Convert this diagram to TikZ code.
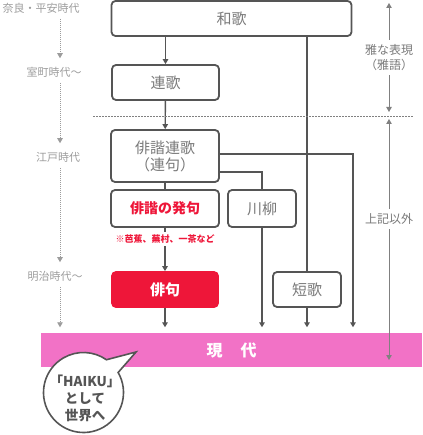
\documentclass[tikz,border=0pt]{standalone}
\usepackage{fontspec}
\setmainfont{Noto Sans CJK JP}
\usetikzlibrary{arrows.meta,positioning}
\definecolor{boxline}{HTML}{555555}
\definecolor{boxtext}{HTML}{7A7A7A}
\definecolor{eratext}{HTML}{9C9C9C}
\definecolor{haikured}{HTML}{EE1639}
\definecolor{barpink}{HTML}{F272C6}

\begin{document}
\begin{tikzpicture}[
    x=1pt, y=-1pt,
    line width=1.4pt,
    >={Triangle[length=5pt,width=5.5pt]},
    every node/.style={align=center},
    era/.style={
        text=eratext,
        font=\fontsize{11}{13}\selectfont,
        inner sep=3pt
    },
    eraflow/.style={
        ->,
        draw=eratext,
        line width=0.8pt,
        dash pattern=on 1pt off 1pt,
        shorten <=2pt,
        shorten >=5pt
    },
    box/.style={
        rectangle,
        rounded corners=4pt,
        draw=boxline,
        line width=1.8pt,
        fill=white,
        text=boxtext,
        font=\fontsize{15}{17}\selectfont,
        minimum width=#1,
        minimum height=35pt,
        inner sep=2pt
    },
    flow/.style={draw=boxline, line width=1.4pt},
    spanline/.style={<->, draw=gray, line width=0.8pt},
    spanlabel/.style={
        fill=white,
        text=boxtext,
        font=\fontsize{12}{15}\selectfont,
        inner sep=4pt
    },
]
\useasboundingbox (0,0) rectangle (422,435);

% main line
\node[box=240pt] (waka)  at (231.5,18.5) {和歌};
\node[box=107pt] (renga) at (165.5,82.5) {連歌};
\node[box=108pt, minimum height=52pt] (haikai) at (165,156) {俳諧連歌\\（連句）};
\node[box=108pt, minimum height=37pt, text=haikured, font=\fontsize{14}{17}\selectfont\bfseries] (hokku) at (165,208.5) {俳諧の発句};
\node[text=haikured, font=\fontsize{9}{11}\selectfont\bfseries, inner sep=2pt] (note) at (165,239) {※芭蕉、蕪村、一茶など};
\node[box=106pt, draw=haikured, fill=haikured, text=white, font=\fontsize{15}{17}\selectfont\bfseries] (haiku) at (165,289.5) {俳句};
\node[box=68pt, minimum height=37pt] (senryu) at (262,208.5) {川柳};
\node[box=68pt] (tanka) at (307,289.5) {短歌};

\node[fill=barpink, minimum width=381pt, minimum height=34pt, text=white, font=\fontsize{16}{19}\selectfont\bfseries] (gendai) at (231.5,350) {現\hspace{18pt}代};

\draw[flow,->] (waka.south -| renga) -- (renga);
\draw[flow,->] (renga) -- (haikai);
\draw[flow] (haikai) -- (hokku);
\draw[flow] (hokku) -- (note);
\draw[flow,->] (note) -- (haiku);
\draw[flow,->, shorten >=5pt] (haiku) -- (haiku |- gendai.north);

% side branches
\coordinate (outer) at (353,0);
\draw[flow] (waka.south -| tanka) -- (tanka);
\draw[flow] ([yshift=-16pt]haikai.east) -| (senryu);
\draw[flow,->] ([yshift=2pt]haikai.east) -| ([yshift=5pt]outer |- gendai.north);
\draw[flow,->, shorten >=5pt] (senryu) -- (senryu |- gendai.north);
\draw[flow,->, shorten >=5pt] (tanka) -- (tanka |- gendai.north);

% separator
\coordinate (sep left)  at (93,116);
\coordinate (sep right) at (413,116);
\draw[draw=gray, line width=0.8pt, dash pattern=on 1.5pt off 1.5pt] (sep left) -- (sep right);

% spans on the right
\coordinate (ga top)     at (389,3);
\coordinate (ga bottom)  at (389,112);
\coordinate (etc top)    at (389,119);
\coordinate (etc bottom) at (389,360);
\draw[spanline] (ga top) -- node[spanlabel] (gago) {雅な表現\\（雅語）} (ga bottom);
\draw[spanline] (etc top) -- node[spanlabel, pos=0.415] (igai) {上記以外} (etc bottom);

% eras on the left
\coordinate (era col) at (60,0);
\node[era] (nara)      at (41,8)   {奈良・平安時代};
\node[era] (muromachi) at (54,72)  {室町時代〜};
\node[era] (edo)       at (58,157) {江戸時代};
\node[era] (meiji)     at (55,276) {明治時代〜};
\draw[eraflow] (nara.south -| era col) -- (muromachi.north -| era col);
\draw[eraflow] (muromachi.south -| era col) -- (edo.north -| era col);
\draw[eraflow] (edo.south -| era col) -- (meiji.north -| era col);
\draw[eraflow] (meiji.south -| era col) -- (era col |- gendai.north);

% speech bubble
\coordinate (bubble) at (83.5,392.5);
\coordinate (bubble tip) at (136,352);
\draw[draw=boxline, line width=1.6pt, fill=white] ([shift={(55:40pt)}]bubble) -- (bubble tip) -- ([shift={(30:40pt)}]bubble) arc[start angle=30, end angle=-305, radius=40pt] -- cycle;
\node[text=boxline, font=\fontsize{13.5}{17}\selectfont\bfseries, inner sep=0pt] (world) at (85,398) {「HAIKU」\\として\\世界へ};

\end{tikzpicture}
\end{document}
